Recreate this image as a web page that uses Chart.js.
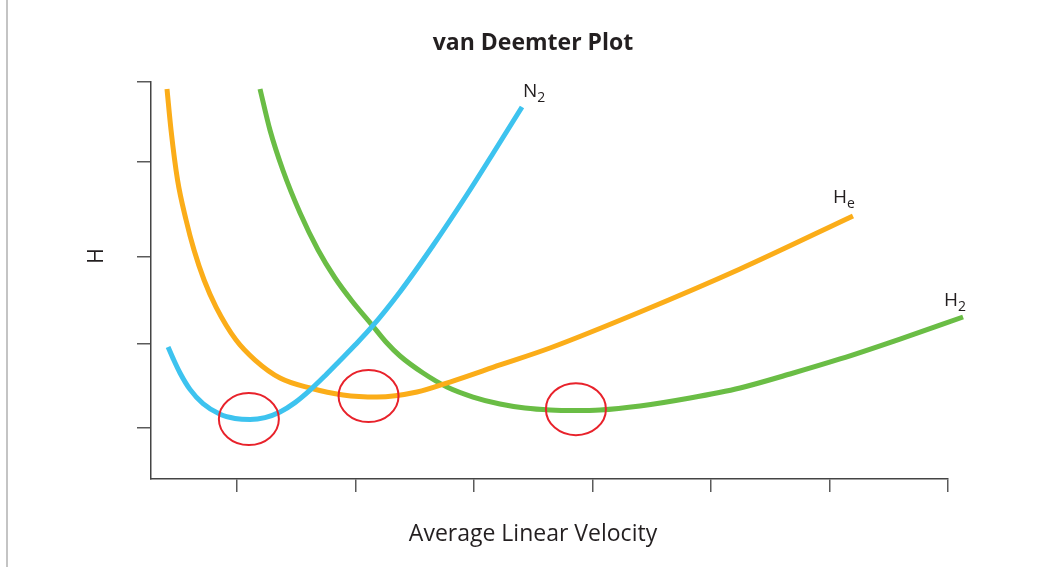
<!DOCTYPE html>
<html>
<head>
<meta charset="utf-8">
<title>van Deemter Plot</title>
<script src="https://cdn.jsdelivr.net/npm/chart.js@4.4.1/dist/chart.umd.min.js"></script>
<style>
    html, body { margin: 0; padding: 0; background: #fff; }
    #wrap { position: relative; width: 1042px; height: 567px; }
    #edge { position: absolute; left: 6px; top: 0; width: 2px; height: 567px; background: #c4c4c4; }
</style>
</head>
<body>
<div id="wrap">
    <div id="edge"></div>
    <canvas id="myChart"></canvas>
</div>
<script>
// velocity in tick units (ticks at 1..7), H in arbitrary units (0..10)
const n2Data = [
    {x: 0.418, y: 3.325}, {x: 0.460, y: 3.038}, {x: 0.519, y: 2.670}, {x: 0.603, y: 2.257},
    {x: 0.713, y: 1.897}, {x: 0.857, y: 1.630}, {x: 0.983, y: 1.526}, {x: 1.110, y: 1.499},
    {x: 1.236, y: 1.547}, {x: 1.363, y: 1.688}, {x: 1.489, y: 1.924}, {x: 1.616, y: 2.239},
    {x: 1.743, y: 2.602}, {x: 1.869, y: 2.985}, {x: 1.996, y: 3.375}, {x: 2.139, y: 3.836},
    {x: 2.376, y: 4.718}, {x: 2.654, y: 5.882}, {x: 2.941, y: 7.166}, {x: 3.160, y: 8.199},
    {x: 3.405, y: 9.370}
];
const heData = [
    {x: 0.409, y: 9.824}, {x: 0.443, y: 8.791}, {x: 0.498, y: 7.531}, {x: 0.570, y: 6.524},
    {x: 0.637, y: 5.768}, {x: 0.722, y: 5.013}, {x: 0.823, y: 4.332}, {x: 0.992, y: 3.501},
    {x: 1.152, y: 2.997}, {x: 1.363, y: 2.544}, {x: 1.616, y: 2.292}, {x: 1.895, y: 2.116},
    {x: 2.181, y: 2.065}, {x: 2.519, y: 2.191}, {x: 2.797, y: 2.443}, {x: 3.219, y: 2.872},
    {x: 3.641, y: 3.300}, {x: 4.401, y: 4.207}, {x: 5.245, y: 5.290}, {x: 6.198, y: 6.625}
];
const h2Data = [
    {x: 1.194, y: 9.824}, {x: 1.278, y: 8.791}, {x: 1.388, y: 7.771}, {x: 1.532, y: 6.700},
    {x: 1.684, y: 5.768}, {x: 1.827, y: 5.063}, {x: 1.970, y: 4.484}, {x: 2.139, y: 3.879},
    {x: 2.257, y: 3.451}, {x: 2.376, y: 3.098}, {x: 2.570, y: 2.670}, {x: 2.772, y: 2.317},
    {x: 2.992, y: 2.065}, {x: 3.219, y: 1.889}, {x: 3.430, y: 1.788}, {x: 3.641, y: 1.738},
    {x: 3.852, y: 1.725}, {x: 4.063, y: 1.738}, {x: 4.401, y: 1.839}, {x: 4.823, y: 2.040},
    {x: 5.245, y: 2.292}, {x: 5.667, y: 2.645}, {x: 6.089, y: 3.023}, {x: 6.595, y: 3.526},
    {x: 7.127, y: 4.081}
];
// optimum velocity markers (minimum of each curve)
const minima = [
    {x: 1.10, y: 1.51}, {x: 2.11, y: 2.09}, {x: 3.86, y: 1.76}
];
const xTicks = [1, 2, 3, 4, 5, 6, 7];
const yTicks = [1.3, 3.4, 5.6, 8.0, 10];

const seriesLabels = [
    {ds: 0, main: 'N', sub: '2', dx: 1, dy: -10},
    {ds: 1, main: 'H', sub: 'e', dx: -20, dy: -13},
    {ds: 2, main: 'H', sub: '2', dx: -19, dy: -11}
];

const FONT = '"Open Sans", "Noto Sans", sans-serif';

const decorPlugin = {
    id: 'decor',
    afterDatasetsDraw(chart) {
        const {ctx, scales: {x, y}} = chart;
        ctx.save();

        // red ellipses round the minima
        ctx.strokeStyle = '#e8222b';
        ctx.lineWidth = 2;
        minima.forEach(p => {
            ctx.beginPath();
            ctx.ellipse(x.getPixelForValue(p.x), y.getPixelForValue(p.y), 30, 26, 0, 0, Math.PI * 2);
            ctx.stroke();
        });

        // series labels with subscripts
        ctx.fillStyle = '#231f20';
        ctx.textBaseline = 'alphabetic';
        ctx.textAlign = 'left';
        seriesLabels.forEach(l => {
            const data = chart.data.datasets[l.ds].data;
            const last = data[data.length - 1];
            const px = x.getPixelForValue(last.x) + l.dx;
            const py = y.getPixelForValue(last.y) + l.dy;
            ctx.font = '19px ' + FONT;
            ctx.fillText(l.main, px, py);
            const w = ctx.measureText(l.main).width;
            ctx.font = '14px ' + FONT;
            ctx.fillText(l.sub, px + w, py + 5);
        });

        // titles
        ctx.textAlign = 'center';
        ctx.textBaseline = 'middle';
        ctx.font = 'bold 23px ' + FONT;
        ctx.fillText('van Deemter Plot', 533, 43);
        ctx.font = '23px ' + FONT;
        ctx.fillText('Average Linear Velocity', 533, 534);
        ctx.translate(97, 256);
        ctx.rotate(-Math.PI / 2);
        ctx.font = '21px ' + FONT;
        ctx.fillText('H', 0, 0);
        ctx.restore();
    }
};

const ctx = document.getElementById('myChart').getContext('2d');
const lineStyle = {
    borderWidth: 5,
    pointRadius: 0,
    fill: false,
    cubicInterpolationMode: 'monotone',
    clip: false,
    borderCapStyle: 'butt'
};

new Chart(ctx, {
    type: 'line',
    data: {
        datasets: [
            Object.assign({label: 'N2', data: n2Data, borderColor: '#3dc3ef'}, lineStyle),
            Object.assign({label: 'He', data: heData, borderColor: '#fbad19'}, lineStyle),
            Object.assign({label: 'H2', data: h2Data, borderColor: '#6abd45'}, lineStyle)
        ]
    },
    options: {
        responsive: true,
        maintainAspectRatio: false,
        animation: false,
        layout: {
            padding: {left: 137, top: 82, right: 94, bottom: 75}
        },
        plugins: {
            legend: {display: false},
            tooltip: {enabled: false}
        },
        scales: {
            x: {
                type: 'linear',
                min: 0.274,
                max: 7,
                afterBuildTicks: scale => { scale.ticks = xTicks.map(v => ({value: v})); },
                ticks: {display: false},
                grid: {drawOnChartArea: false, drawTicks: true, tickLength: 13, color: '#5a5a5a', lineWidth: 1.5},
                border: {display: true, color: '#444', width: 1.5}
            },
            y: {
                type: 'linear',
                min: 0,
                max: 10,
                afterBuildTicks: scale => { scale.ticks = yTicks.map(v => ({value: v})); },
                ticks: {display: false},
                grid: {drawOnChartArea: false, drawTicks: true, tickLength: 14, color: '#5a5a5a', lineWidth: 1.5},
                border: {display: true, color: '#444', width: 1.5}
            }
        }
    },
    plugins: [decorPlugin]
});
</script>
</body>
</html>
